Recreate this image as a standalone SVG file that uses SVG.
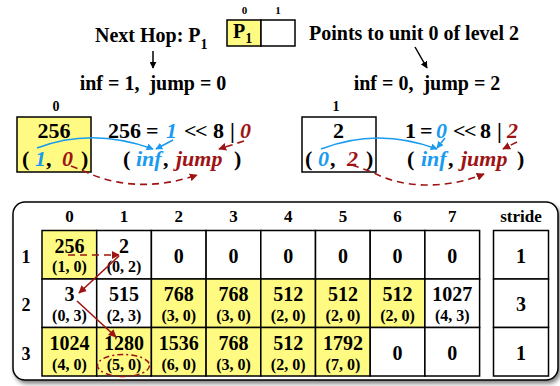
<svg xmlns="http://www.w3.org/2000/svg" width="560" height="386" viewBox="0 0 560 386">
<style>
text{font-family:"Liberation Serif","Times New Roman",serif;font-weight:bold;fill:#000}
.c{text-anchor:middle}
.big{font-size:22px}
.t20{font-size:20px}
.m{font-size:20px;text-anchor:middle}
.s{font-size:16px;text-anchor:middle}
.hd{font-size:17px;text-anchor:middle}
.rl{font-size:18px;text-anchor:middle}
.sm{font-size:11px;text-anchor:middle}
.bl{fill:#1a9bf0;font-style:italic}
.rd{fill:#9e1414;font-style:italic}
.ll{letter-spacing:-1.5px}
.cell{stroke:#000;stroke-width:1.5;fill:#fff}
.y{fill:#fffb82}
.ab{fill:none;stroke:#1a9bf0;stroke-width:1.6}
.ar{fill:none;stroke:#9e1414;stroke-width:1.6}
.dash{stroke-dasharray:7,5}
</style>
<defs>
<marker id="mb" viewBox="0 0 10 10" refX="9" refY="5" markerWidth="7" markerHeight="7" orient="auto" markerUnits="userSpaceOnUse"><path d="M0,0 L10,5 L0,10 z" fill="#1a9bf0"/></marker>
<marker id="mr" viewBox="0 0 10 10" refX="9" refY="5" markerWidth="8" markerHeight="8" orient="auto" markerUnits="userSpaceOnUse"><path d="M0,0 L10,5 L0,10 z" fill="#9e1414"/></marker>
<marker id="mk" viewBox="0 0 10 10" refX="9" refY="5" markerWidth="7" markerHeight="7" orient="auto" markerUnits="userSpaceOnUse"><path d="M0,0 L10,5 L0,10 z" fill="#000"/></marker>
<filter id="sh" x="-5%" y="-5%" width="110%" height="115%"><feGaussianBlur in="SourceAlpha" stdDeviation="2"/><feOffset dx="2" dy="3"/><feComponentTransfer><feFuncA type="linear" slope="0.5"/></feComponentTransfer><feMerge><feMergeNode/><feMergeNode in="SourceGraphic"/></feMerge></filter>
</defs>

<g id="next-hop">
<text class="t20" x="95" y="42">Next Hop: P<tspan font-size="14" dy="7">1</tspan></text>
</g>
<g id="nh-array">
<rect class="cell y" x="227" y="20" width="34" height="26"/>
<rect class="cell" x="261" y="20" width="34" height="26"/>
<text class="sm" x="244.5" y="14">0</text>
<text class="sm" x="278" y="14">1</text>
<text class="t20" x="233" y="38">P<tspan font-size="14" dy="5">1</tspan></text>
</g>
<g id="points-to">
<text class="t20" x="309" y="40">Points to unit 0 of level 2</text>
</g>
<g id="inf-left"><text class="t20 c" x="153" y="90" xml:space="preserve">inf = 1,  jump = 0</text></g>
<g id="inf-right"><text class="t20 c" x="427" y="90" xml:space="preserve">inf = 0,  jump = 2</text></g>

<g id="unit0">
<text class="c" font-size="14" x="56" y="111">0</text>
<rect class="cell y" x="17" y="117" width="74" height="55"/>
<text class="big c" x="54" y="138">256</text>
<text class="big"><tspan x="22" y="166">(</tspan><tspan class="bl" x="35" y="166">1</tspan><tspan x="46" y="166">,</tspan><tspan class="rd" x="62" y="166">0</tspan><tspan x="81" y="166">)</tspan></text>
</g>
<g id="eq-left">
<text class="big"><tspan x="108" y="138">256</tspan><tspan x="146" y="138">=</tspan><tspan class="bl" x="166" y="138">1</tspan><tspan class="ll" x="184" y="138">&lt;&lt;</tspan><tspan x="213" y="138">8</tspan><tspan x="230" y="138">|</tspan><tspan class="rd" x="240" y="138">0</tspan></text>
<text class="big"><tspan x="123" y="166">(</tspan><tspan class="bl" x="136" y="166">inf</tspan><tspan x="163" y="166">,</tspan><tspan class="rd" x="176" y="166">jump</tspan><tspan x="234" y="166">)</tspan></text>
</g>

<g id="unit1">
<text class="c" font-size="14" x="336" y="111">1</text>
<rect class="cell" x="302" y="117" width="74" height="55"/>
<text class="big c" x="338.5" y="138">2</text>
<text class="big"><tspan x="305" y="166">(</tspan><tspan class="bl" x="318" y="166">0</tspan><tspan x="330" y="166">,</tspan><tspan class="rd" x="347" y="166">2</tspan><tspan x="366" y="166">)</tspan></text>
</g>
<g id="eq-right">
<text class="big"><tspan x="405" y="138">1</tspan><tspan x="420" y="138">=</tspan><tspan class="bl" x="436" y="138">0</tspan><tspan class="ll" x="453" y="138">&lt;&lt;</tspan><tspan x="480" y="138">8</tspan><tspan x="497" y="138">|</tspan><tspan class="rd" x="507" y="138">2</tspan></text>
<text class="big"><tspan x="407" y="166">(</tspan><tspan class="bl" x="421" y="166">inf</tspan><tspan x="448" y="166">,</tspan><tspan class="rd" x="461" y="166">jump</tspan><tspan x="517" y="166">)</tspan></text>
</g>

<g id="table-frame">
<rect x="13" y="202" width="545" height="178" rx="12" fill="#fff" stroke="#000" stroke-width="1.5" filter="url(#sh)"/>
<text class="hd" x="69.4" y="222">0</text><text class="hd" x="124.1" y="222">1</text><text class="hd" x="178.8" y="222">2</text><text class="hd" x="233.5" y="222">3</text><text class="hd" x="288.2" y="222">4</text><text class="hd" x="342.9" y="222">5</text><text class="hd" x="397.6" y="222">6</text><text class="hd" x="452.3" y="222">7</text><text class="hd" x="521" y="222">stride</text>
<text class="rl" x="26" y="263">1</text><text class="rl" x="26" y="311">2</text><text class="rl" x="26" y="360">3</text>
</g>

<g id="row1">
<g id="r1c0"><rect class="cell y" x="42" y="230.5" width="54.7" height="48.5"/><text class="m" x="69.4" y="253">256</text><text class="s" x="69.4" y="272">(1, 0)</text></g>
<g id="r1c1"><rect class="cell" x="96.7" y="230.5" width="54.7" height="48.5"/><text class="m" x="124.1" y="253">2</text><text class="s" x="124.1" y="272">(0, 2)</text></g>
<g id="r1c2"><rect class="cell" x="151.4" y="230.5" width="54.7" height="48.5"/><text class="m" x="178.8" y="263">0</text></g>
<g id="r1c3"><rect class="cell" x="206.1" y="230.5" width="54.7" height="48.5"/><text class="m" x="233.5" y="263">0</text></g>
<g id="r1c4"><rect class="cell" x="260.8" y="230.5" width="54.7" height="48.5"/><text class="m" x="288.2" y="263">0</text></g>
<g id="r1c5"><rect class="cell" x="315.5" y="230.5" width="54.7" height="48.5"/><text class="m" x="342.9" y="263">0</text></g>
<g id="r1c6"><rect class="cell" x="370.2" y="230.5" width="54.7" height="48.5"/><text class="m" x="397.6" y="263">0</text></g>
<g id="r1c7"><rect class="cell" x="424.9" y="230.5" width="54.7" height="48.5"/><text class="m" x="452.3" y="263">0</text></g>
<g id="r1s"><rect class="cell" x="493.5" y="230.5" width="55" height="48.5"/><text class="m" x="521" y="263">1</text></g>
</g>
<g id="row2">
<g id="r2c0"><rect class="cell" x="42" y="279" width="54.7" height="48.5"/><text class="m" x="69.4" y="301">3</text><text class="s" x="69.4" y="321">(0, 3)</text></g>
<g id="r2c1"><rect class="cell" x="96.7" y="279" width="54.7" height="48.5"/><text class="m" x="124.1" y="301">515</text><text class="s" x="124.1" y="321">(2, 3)</text></g>
<g id="r2c2"><rect class="cell y" x="151.4" y="279" width="54.7" height="48.5"/><text class="m" x="178.8" y="301">768</text><text class="s" x="178.8" y="321">(3, 0)</text></g>
<g id="r2c3"><rect class="cell y" x="206.1" y="279" width="54.7" height="48.5"/><text class="m" x="233.5" y="301">768</text><text class="s" x="233.5" y="321">(3, 0)</text></g>
<g id="r2c4"><rect class="cell y" x="260.8" y="279" width="54.7" height="48.5"/><text class="m" x="288.2" y="301">512</text><text class="s" x="288.2" y="321">(2, 0)</text></g>
<g id="r2c5"><rect class="cell y" x="315.5" y="279" width="54.7" height="48.5"/><text class="m" x="342.9" y="301">512</text><text class="s" x="342.9" y="321">(2, 0)</text></g>
<g id="r2c6"><rect class="cell y" x="370.2" y="279" width="54.7" height="48.5"/><text class="m" x="397.6" y="301">512</text><text class="s" x="397.6" y="321">(2, 0)</text></g>
<g id="r2c7"><rect class="cell" x="424.9" y="279" width="54.7" height="48.5"/><text class="m" x="452.3" y="301">1027</text><text class="s" x="452.3" y="321">(4, 3)</text></g>
<g id="r2s"><rect class="cell" x="493.5" y="279" width="55" height="48.5"/><text class="m" x="521" y="311">3</text></g>
</g>
<g id="row3">
<g id="r3c0"><rect class="cell y" x="42" y="327.5" width="54.7" height="48.5"/><text class="m" x="69.4" y="349.5">1024</text><text class="s" x="69.4" y="369.5">(4, 0)</text></g>
<g id="r3c1"><rect class="cell y" x="96.7" y="327.5" width="54.7" height="48.5"/><text class="m" x="124.1" y="349.5">1280</text><text class="s" x="124.1" y="369.5">(5, 0)</text></g>
<g id="r3c2"><rect class="cell y" x="151.4" y="327.5" width="54.7" height="48.5"/><text class="m" x="178.8" y="349.5">1536</text><text class="s" x="178.8" y="369.5">(6, 0)</text></g>
<g id="r3c3"><rect class="cell y" x="206.1" y="327.5" width="54.7" height="48.5"/><text class="m" x="233.5" y="349.5">768</text><text class="s" x="233.5" y="369.5">(3, 0)</text></g>
<g id="r3c4"><rect class="cell y" x="260.8" y="327.5" width="54.7" height="48.5"/><text class="m" x="288.2" y="349.5">512</text><text class="s" x="288.2" y="369.5">(2, 0)</text></g>
<g id="r3c5"><rect class="cell y" x="315.5" y="327.5" width="54.7" height="48.5"/><text class="m" x="342.9" y="349.5">1792</text><text class="s" x="342.9" y="369.5">(7, 0)</text></g>
<g id="r3c6"><rect class="cell" x="370.2" y="327.5" width="54.7" height="48.5"/><text class="m" x="397.6" y="360">0</text></g>
<g id="r3c7"><rect class="cell" x="424.9" y="327.5" width="54.7" height="48.5"/><text class="m" x="452.3" y="360">0</text></g>
<g id="r3s"><rect class="cell" x="493.5" y="327.5" width="55" height="48.5"/><text class="m" x="521" y="360">1</text></g>
</g>

<g id="connectors">
<line x1="153" y1="51" x2="153" y2="68" stroke="#000" stroke-width="1.5" marker-end="url(#mk)"/>
<line x1="415" y1="47" x2="427" y2="68" stroke="#000" stroke-width="1.5" marker-end="url(#mk)"/>
<path class="ab" d="M37,148 Q92,127 153,149" marker-end="url(#mb)"/>
<path class="ab" d="M173,140 L156,149" marker-end="url(#mb)"/>
<path class="ar dash" d="M244,141 L219,149" marker-end="url(#mr)"/>
<path class="ar dash" d="M71,166 L86,172 C120,188 160,188 197,175" marker-end="url(#mr)"/>
<path class="ab" d="M321,149 Q378,127 437,149" marker-end="url(#mb)"/>
<path class="ab" d="M445,138 L437,148" marker-end="url(#mb)"/>
<path class="ar dash" d="M517,142 L503,149" marker-end="url(#mr)"/>
<path class="ar dash" d="M352,165 L372,172 C405,190 450,188 484,174" marker-end="url(#mr)"/>
<path class="ar dash" d="M68,255 L119,255" marker-end="url(#mr)"/>
<path class="ar" d="M119,256 L79,293" marker-end="url(#mr)"/>
<path class="ar" d="M77,301 L116,337" marker-end="url(#mr)"/>
<ellipse cx="123.5" cy="365.5" rx="26" ry="11" fill="none" stroke="#9e1414" stroke-width="1.5" stroke-dasharray="6,3,2,3"/>
</g>
</svg>
